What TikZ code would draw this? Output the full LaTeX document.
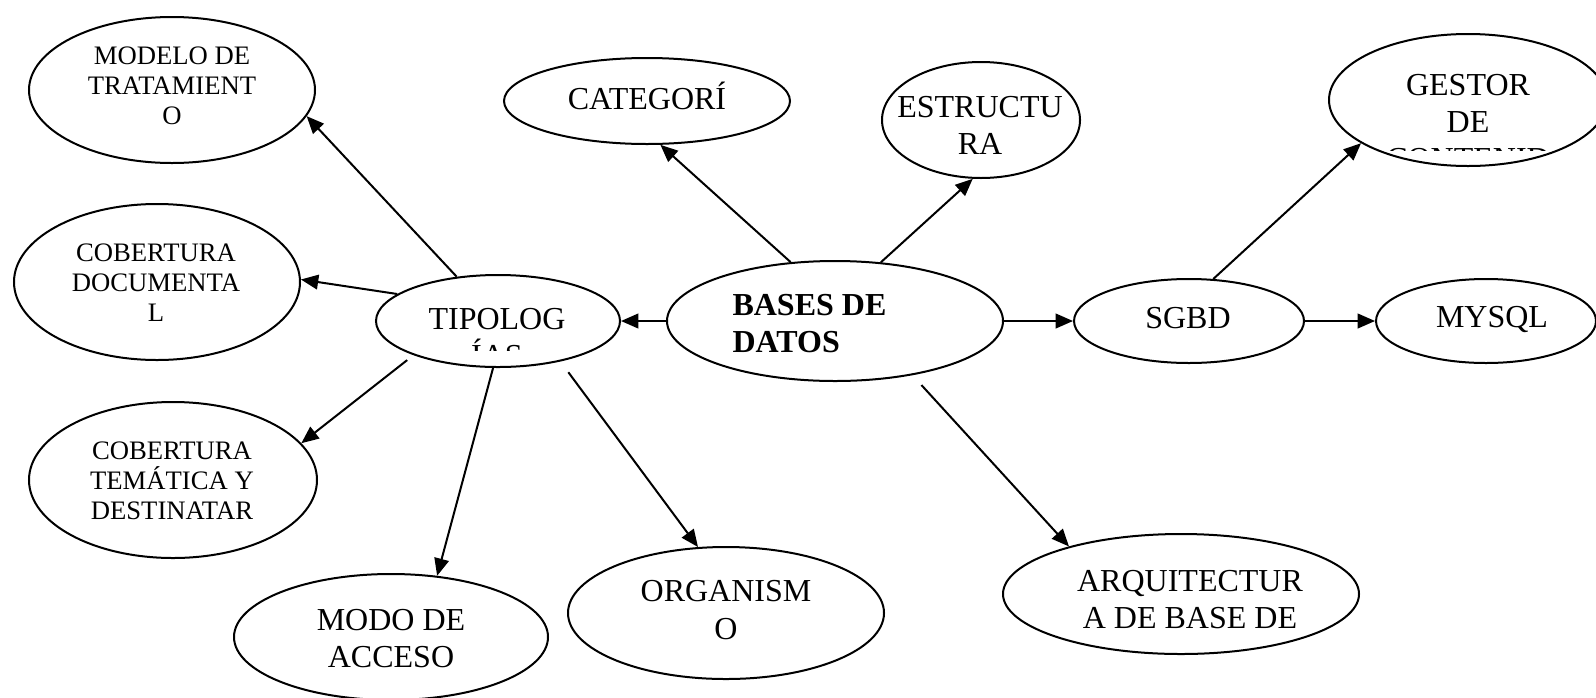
\documentclass[tikz,border=0pt]{standalone}
\usepackage{fontspec}
\setmainfont{Liberation Serif}
\usetikzlibrary{shapes.geometric,arrows.meta}
\begin{document}
\begin{tikzpicture}[x=0.375pt,y=-0.375pt,
  oval/.style n args={2}{ellipse,draw,line width=0.75pt,minimum width=#1*0.75pt,minimum height=#2*0.75pt,inner sep=0pt},
  big/.style={inner sep=0pt,anchor=base,align=center,font=\fontsize{12}{13.9}\selectfont},
  small/.style={inner sep=0pt,anchor=base,align=center,font=\fontsize{10}{11.25}\selectfont},
  link/.style={line width=0.75pt,-{Triangle[length=6.5pt,width=5.5pt]}}]
\useasboundingbox[fill=white] (0,0) rectangle (1596,697);

% ellipses
\node[oval={143}{73}] (modelo) at (172,90) {};
\node[oval={143}{78}] (cobdoc) at (157,282) {};
\node[oval={144}{78}] (cobtem) at (173,480) {};
\node[oval={157}{63}] (modo) at (391,637) {};
\node[oval={158}{66}] (organismo) at (726,613) {};
\node[oval={143}{43}] (categ) at (647,101) {};
\node[oval={99}{58}] (estruct) at (981,120) {};
\node[oval={168}{60}] (bases) at (835,321) {};
\node[oval={122}{46}] (tipo) at (498,321) {};
\node[oval={115}{42}] (sgbd) at (1189,321) {};
\node[oval={110}{42}] (mysql) at (1486,321) {};
\node[oval={139}{66}] (gestor) at (1468,100) {};
\node[oval={178}{60}] (arq) at (1181,594) {};

% labels (base anchor = baseline of the last line)
\node[small] (modelo-t) at (172,124) {MODELO DE\\TRATAMIENT\\O};
\node[small] (cobdoc-t) at (156,321) {COBERTURA\\DOCUMENTA\\L};
\node[small] (cobtem-t) at (172,519) {COBERTURA\\TEMÁTICA Y\\DESTINATAR};
\node[big] (modo-t) at (391,667.5) {MODO DE\\ACCESO};
\node[big] (organismo-t) at (726,639) {ORGANISM\\O};
\node[big] (categ-t) at (647,109.5) {CATEGORÍ};
\node[big] (estruct-t) at (980,154.5) {ESTRUCTU\\RA};
\node[big,align=left,anchor=base west,font=\fontsize{12}{13.9}\selectfont\bfseries] (bases-t) at (732,352.5) {BASES DE\\DATOS};
\node[big] (sgbd-t) at (1188,328.5) {SGBD};
\node[big] (mysql-t) at (1492,327.5) {MYSQL};
\node[big] (arq-t) at (1190,628.5) {ARQUITECTUR\\A DE BASE DE};
\begin{scope}
  \clip (380,280) rectangle (620,350);
  \node[big] (tipo-t) at (497,366.5) {TIPOLOG\\ÍAS};
\end{scope}
\begin{scope}
  \clip (1330,40) rectangle (1596,150);
  \node[big] (gestor-t) at (1468,169.5) {GESTOR\\DE\\CONTENID};
\end{scope}

% connectors
\draw[link] (tipo.133) -- (modelo.-11);
\draw[link] (tipo.165) -- (cobdoc.1);
\draw[link,shorten <=3pt] (tipo.202) -- (cobtem.16);
\draw[link] (tipo.264) -- (modo.53);
\draw[link,shorten <=5pt] (tipo.-33) -- (organismo.113);
\draw[link] (bases.west) -- (tipo.east);
\draw[link] (bases.127) -- (categ.-73);
\draw[link] (bases.52) -- (estruct.-98);
\draw[link] (bases.east) -- (sgbd.west);
\draw[link,shorten <=5pt] (bases.-35) -- (arq.157);
\draw[link] (sgbd.60) -- (gestor.202);
\draw[link] (sgbd.east) -- (mysql.west);
\end{tikzpicture}
\end{document}
